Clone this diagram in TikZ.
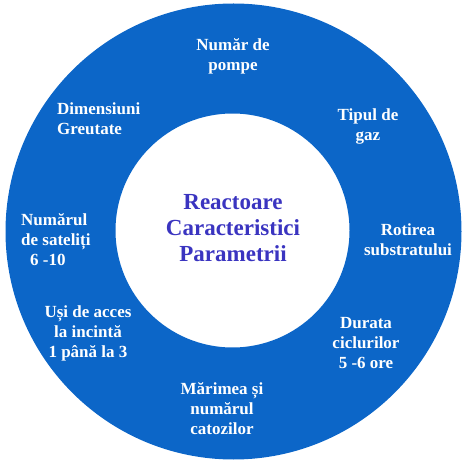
\documentclass[tikz,border=0pt]{standalone}
\usepackage{fontspec}
\setmainfont{Liberation Serif}
\usepackage{tikz}
\usetikzlibrary{positioning}
\definecolor{ringblue}{RGB}{12,102,200}
\definecolor{hubblue}{RGB}{58,52,192}
\tikzstyle{param}=[text=white, font=\fontsize{17}{20}\selectfont\bfseries, align=center, inner sep=0pt]
\tikzstyle{hub}=[text=hubblue, font=\fontsize{23}{26}\selectfont\bfseries, align=center, inner sep=0pt]

\begin{document}
\begin{tikzpicture}[x=1pt, y=-1pt]
    \useasboundingbox (0,0) rectangle (474,470);
    % Ring:
    \coordinate (co) at (233.5,231.5);
    \coordinate (ci) at (232.5,230.5);
    \fill[ringblue, even odd rule] (co) circle [radius=228pt] (ci) circle [radius=117pt];

    % Centre:
    \node[hub] (reactoare) at (233,228.5) {Reactoare\\Caracteristici\\Parametrii};

    % Parameters:
    \node[param] (pompe) at (233,56) {Număr de\\pompe};
    \node[param] (gaz) at (368,126) {Tipul de\\gaz};
    \node[param] (rotire) at (408,240) {Rotirea\\substratului};
    \node[param] (durata) at (366,343) {Durata\\ciclurilor\\5 -6 ore};
    \node[param] (catozi) at (222,409) {Mărimea și\\numărul\\catozilor};
    \node[param] (usi) at (88,333) {Uși de acces\\la incintă\\1 până la 3};
    \node[param, align=left, anchor=west] (sateliti) at (21,240) {Numărul\\de sateliți\\\hspace{9pt}6 -10};
    \node[param, align=left, anchor=west] (dimensiuni) at (57,119) {Dimensiuni\\Greutate};
\end{tikzpicture}
\end{document}
